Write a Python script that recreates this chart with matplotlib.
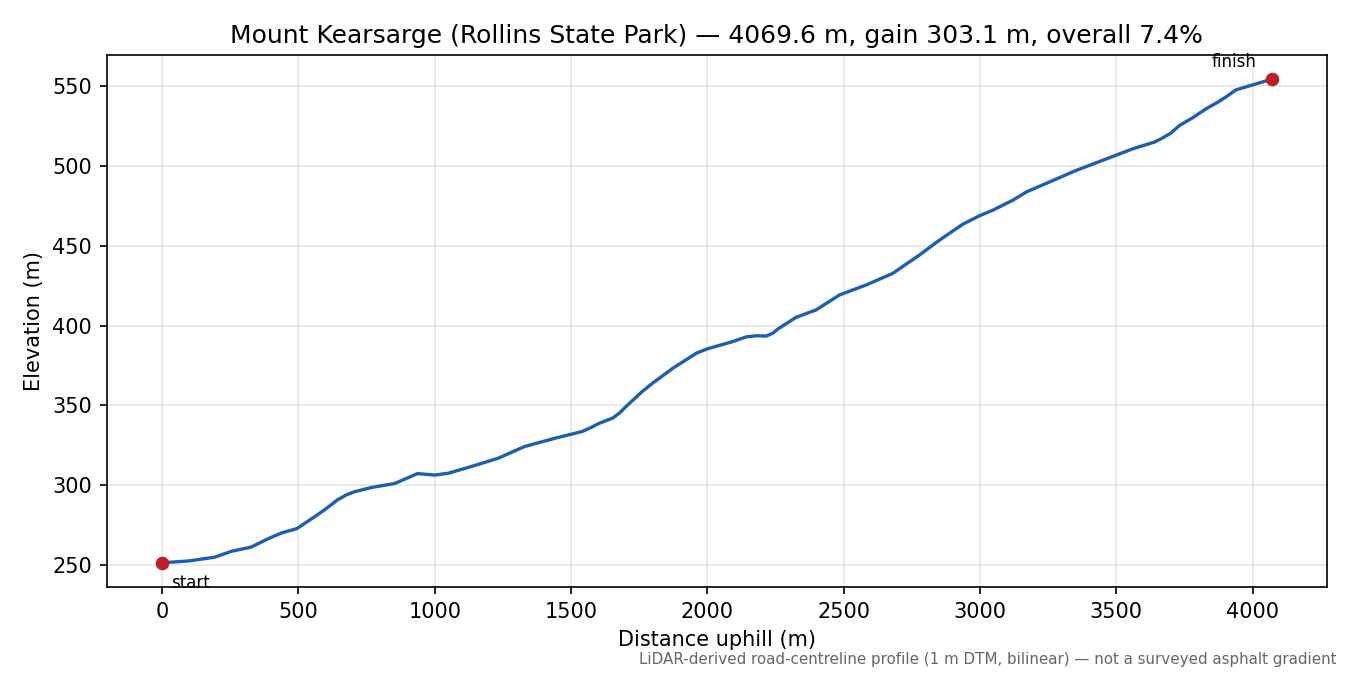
import matplotlib
matplotlib.use("Agg")
import matplotlib.pyplot as plt

# profile, distance along road (m) vs elevation (m)
dist_m = [0, 100, 192, 256, 326, 389, 438, 494, 558, 600, 642, 675, 705, 768,
          853, 937, 1000, 1049, 1133, 1232, 1330, 1442, 1541, 1570, 1600, 1654,
          1680, 1700, 1760, 1800, 1874, 1960, 2000, 2094, 2143, 2180, 2216, 2240,
          2260, 2326, 2399, 2485, 2582, 2680, 2778, 2851, 2937, 2998, 3047, 3120,
          3171, 3354, 3561, 3640, 3665, 3700, 3732, 3780, 3829, 3872, 3900, 3939,
          4000, 4069.6]
elev_m = [251.3, 252.5, 254.8, 258.6, 261.1, 266.4, 270.0, 272.7, 280.0, 285.0,
          290.6, 293.8, 295.8, 298.5, 301.0, 307.2, 306.3, 307.4, 311.6, 316.8,
          324.2, 329.4, 333.6, 335.8, 338.5, 342.1, 345.5, 349.0, 358.5, 364.0,
          373.3, 382.7, 385.4, 390.0, 392.9, 393.6, 393.4, 395.2, 398.0, 405.2,
          409.8, 419.2, 425.4, 432.7, 444.2, 453.5, 463.5, 468.8, 472.3, 478.5,
          483.8, 497.3, 510.8, 515.0, 517.1, 520.6, 525.4, 530.2, 535.8, 540.0,
          543.0, 547.7, 550.8, 554.4]

name = "Mount Kearsarge (Rollins State Park)"
note = "LiDAR-derived road-centreline profile (1 m DTM, bilinear) \u2014 not a surveyed asphalt gradient"

total = dist_m[-1]
gain = elev_m[-1] - elev_m[0]
pct = 100.0 * gain / total

fig, ax = plt.subplots(figsize=(9, 4.5), dpi=150)
fig.subplots_adjust(left=0.079, right=0.983, top=0.9185, bottom=0.1304)

ax.plot(dist_m, elev_m, color="#1a5fb4", lw=1.6)
ax.plot([dist_m[0], dist_m[-1]], [elev_m[0], elev_m[-1]], "o", color="#c01c28", ms=5.5)

ax.annotate("start", (dist_m[0], elev_m[0]), xytext=(4.5, -5.5), textcoords="offset points",
            ha="left", va="top", fontsize=8)
ax.annotate("finish", (dist_m[-1], elev_m[-1]), xytext=(-7, 4), textcoords="offset points",
            ha="right", va="bottom", fontsize=8)

ax.set_xlabel("Distance uphill (m)")
ax.set_ylabel("Elevation (m)")
ax.set_title(f"{name} \u2014 {total:.1f} m, gain {gain:.1f} m, overall {pct:.1f}%")
ax.grid(True, alpha=0.3)

fig.text(0.99, 0.012, note, ha="right", va="bottom", fontsize=7.25, color="#666666")

fig.savefig("out.png", dpi=150)
